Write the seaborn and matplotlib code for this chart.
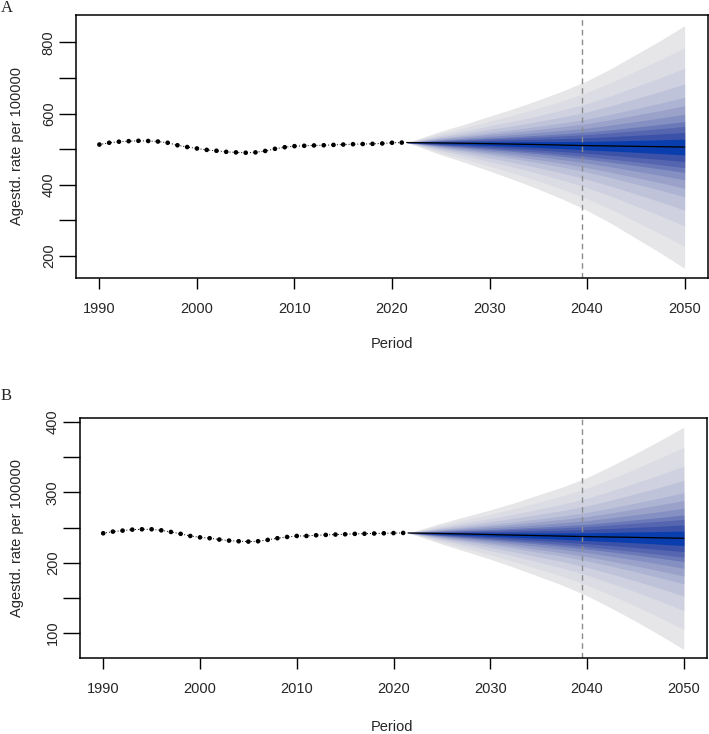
import numpy as np
import pandas as pd
import seaborn as sns
import matplotlib.pyplot as plt

# observed age-standardised rates, 1990-2021
years_obs = list(range(1990, 2022))
rate_a = [513, 518, 521, 522.5, 523.5, 523, 521.5, 518, 511, 506, 502, 498, 495.5, 492.5,
          491, 490, 491, 495, 501, 505.5, 508.5, 509.5, 510.5, 511, 512, 513, 514,
          514.5, 515, 516, 518, 518.5]
rate_b = [241.8, 244.2, 245.6, 247, 247.5, 247.5, 246, 243.7, 241, 238, 236, 234.8, 232.9,
          231.4, 230.5, 230, 230.5, 232.4, 234.8, 236.6, 238, 238, 239, 239.5, 240, 240.4,
          241, 241.2, 241.5, 241.8, 242.1, 242.3]

# projection: median and outer half-width of the fan
years_proj = [2021.5, 2022.5, 2025, 2027.5, 2030, 2032.5, 2035, 2037.5, 2040,
              2042.5, 2045, 2047.5, 2050]
median_a = [518.7, 518.4, 517.5, 516.5, 515.5, 514.2, 513, 511.5, 510, 509, 508, 507, 506]
width_a = [0, 9, 33, 54, 77, 100, 125, 152, 182, 218, 258, 298, 341]
median_b = [242.3, 242.1, 241.5, 240.8, 240, 239.2, 238.5, 237.8, 237, 236.5, 236,
            235.3, 234.7]
width_b = [0, 4, 15, 25, 35, 46, 58, 70, 84, 101, 119, 138, 158]

# relative position of each band edge (share of outer half-width), inner to outer
band_edges = [0.065, 0.12, 0.17, 0.21, 0.27, 0.34, 0.41, 0.52, 0.65, 0.82, 1.0]
band_colors = ["#0A3EAE", "#3B52A8", "#5565B0", "#6C79B8", "#8590C2", "#9AA2CA",
               "#ADB3D2", "#BFC3D9", "#CFD1E0", "#DCDDE4", "#E6E6E8"]

sns.set_theme(style="white")
plt.rcParams['font.family'] = ['Liberation Sans', 'DejaVu Sans']

W, H = 709, 734
fig = plt.figure(figsize=(W / 100, H / 100), dpi=100)


def px_axes(l, t, r, b):
    return fig.add_axes([l / W, 1 - b / H, (r - l) / W, (b - t) / H])


def draw_panel(ax, obs, med, wid, ylim, yticks, ylabels):
    obs_df = pd.DataFrame({'year': years_obs, 'rate': obs})
    proj_df = pd.DataFrame({'year': years_proj, 'median': med, 'width': wid})

    # fan bands, widest first so the darker ones lie on top
    for frac, col in zip(band_edges[::-1], band_colors[::-1]):
        ax.fill_between(proj_df['year'],
                        proj_df['median'] - frac * proj_df['width'],
                        proj_df['median'] + frac * proj_df['width'],
                        color=col, lw=0, zorder=1)

    sns.lineplot(data=proj_df, x='year', y='median', color='black', lw=0.9, ax=ax, zorder=3)
    sns.lineplot(data=obs_df, x='year', y='rate', color='black', lw=0.7,
                 linestyle=(0, (1, 2)), ax=ax, zorder=3)
    sns.scatterplot(data=obs_df, x='year', y='rate', color='black', s=11,
                    edgecolor='none', ax=ax, zorder=4)

    ax.axvline(2039.5, color='#8c8c8c', lw=1, ls=(0, (4, 3)), zorder=2)

    ax.set_xlim(1987.6, 2052.4)
    ax.set_ylim(*ylim)
    ax.set_xticks(range(1990, 2051, 10))
    ax.set_yticks(yticks)
    ax.set_yticklabels(ylabels, rotation=90, va='center')
    ax.tick_params(axis='x', length=8, width=1, pad=9, labelsize=10.5, color='black',
                   bottom=True)
    ax.tick_params(axis='y', length=12.5, width=1, pad=2, labelsize=10.5, color='black',
                   left=True)
    for sp in ax.spines.values():
        sp.set_color('black')
        sp.set_linewidth(1.1)

    ax.set_xlabel('Period', fontsize=10.5)
    ax.set_ylabel('Agestd. rate per 100000', fontsize=10.5)
    ax.grid(False)


ax_a = px_axes(76, 15, 708, 278)
draw_panel(ax_a, rate_a, median_a, width_a, (138, 877),
           [200, 300, 400, 500, 600, 700, 800],
           ['200', '', '400', '', '600', '', '800'])
ax_a.xaxis.set_label_coords((392 - 76) / 632, -66 / 263)
ax_a.yaxis.set_label_coords((17 - 76) / 632, 0.5)

ax_b = px_axes(80, 418, 707, 658)
draw_panel(ax_b, rate_b, median_b, width_b, (64.5, 405.7),
           [100, 150, 200, 250, 300, 350, 400],
           ['100', '', '200', '', '300', '', '400'])
ax_b.xaxis.set_label_coords((392 - 80) / 627, -69 / 240)
ax_b.yaxis.set_label_coords((17 - 80) / 627, 0.5)

for ax in (ax_a, ax_b):
    ax.xaxis.label.set_va('center')
    ax.yaxis.label.set_va('center')

fig.text(7 / W, 1 - 8 / H, 'A', family='Liberation Serif', fontsize=12,
         ha='center', va='center')
fig.text(6 / W, 1 - 396 / H, 'B', family='Liberation Serif', fontsize=12,
         ha='center', va='center')

fig.savefig('out.png', dpi=100, facecolor='white')
